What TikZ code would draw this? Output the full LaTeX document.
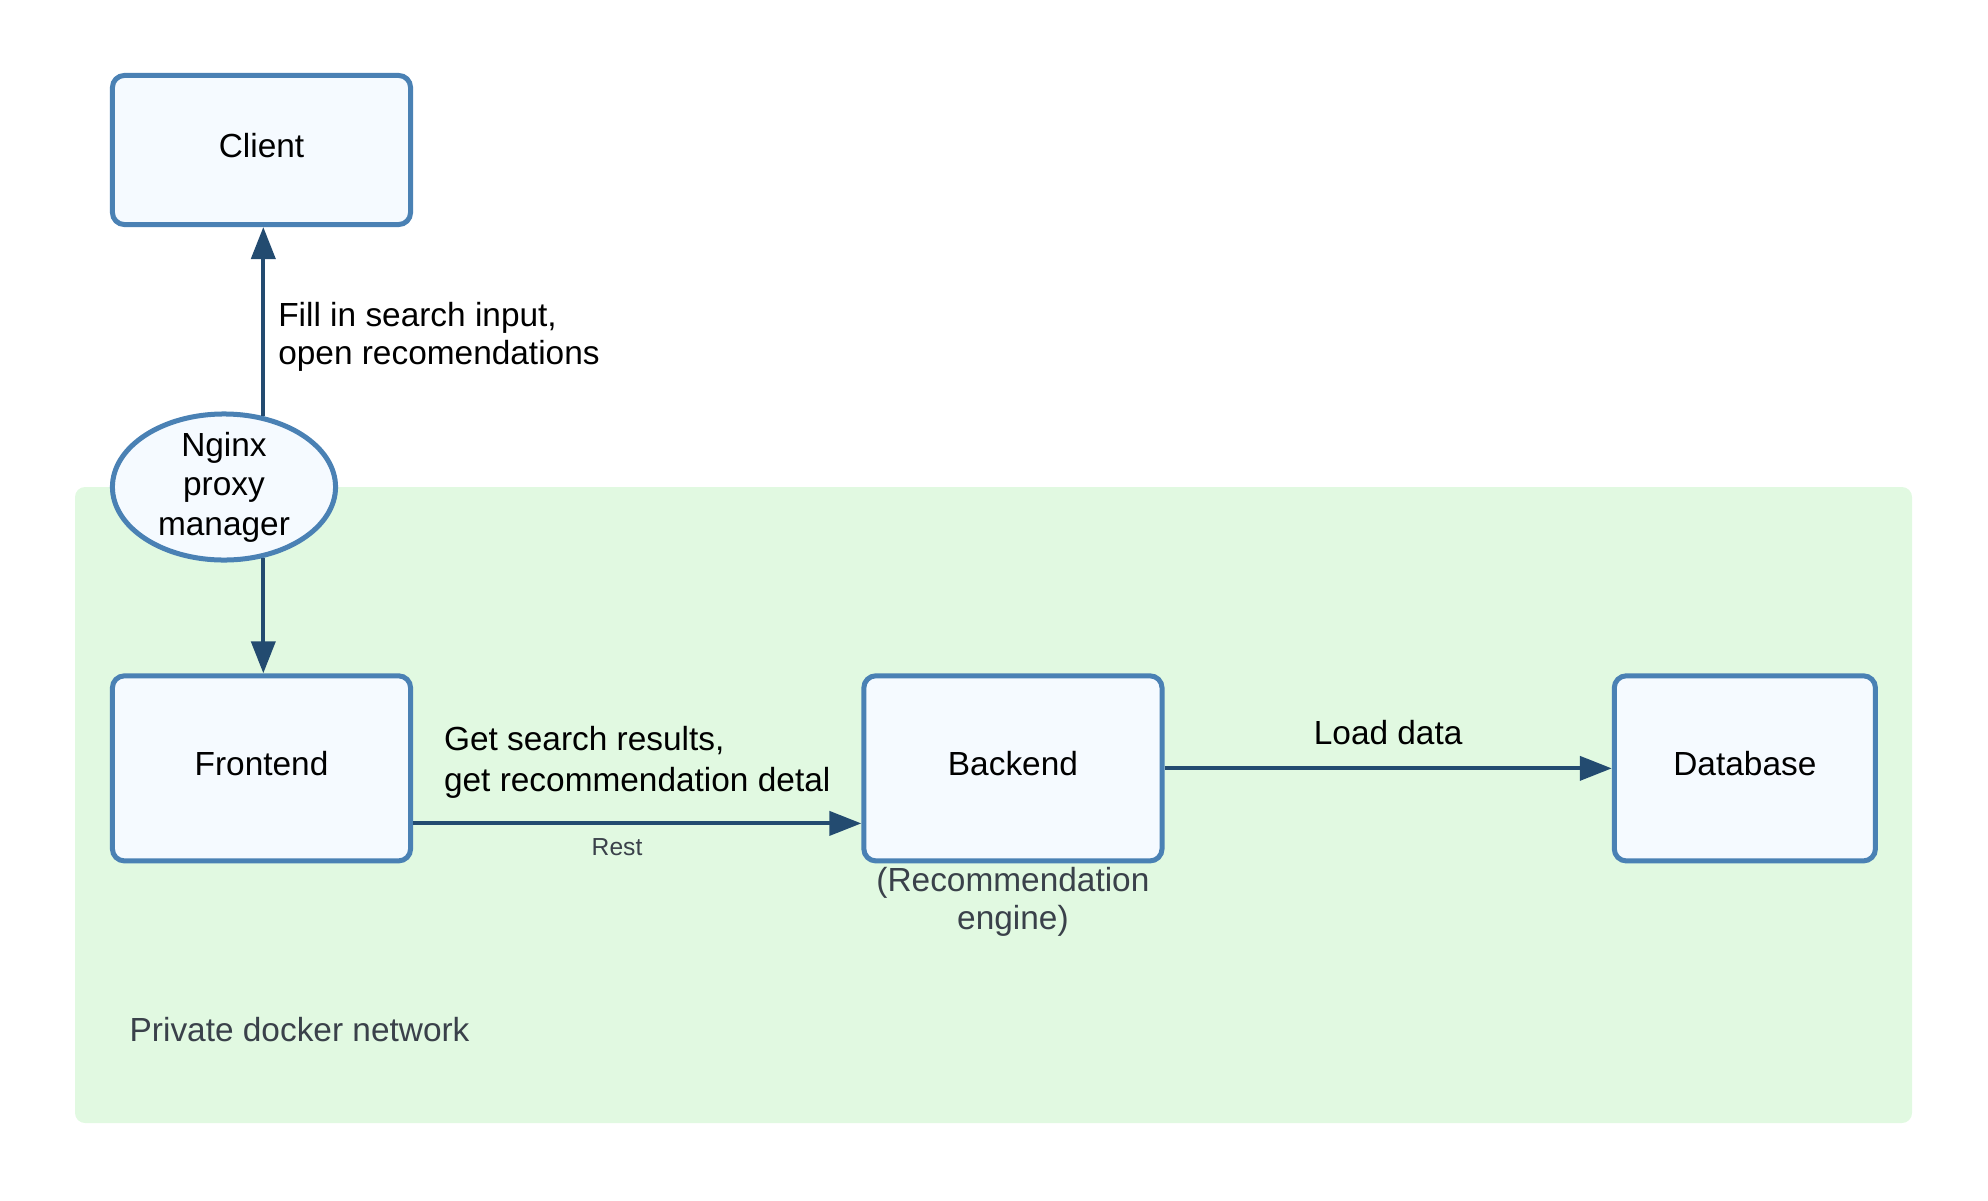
\documentclass[tikz,border=0pt]{standalone}
\usepackage{fontspec}
\setmainfont{Liberation Sans}
\usepackage{tikz}
\usepackage{xcolor}
\usetikzlibrary{shapes.geometric, arrows.meta, positioning, calc}
\definecolor{cBorder}{RGB}{74,129,180}
\definecolor{cFill}{RGB}{245,250,255}
\definecolor{cNet}{RGB}{225,249,225}
\definecolor{cArrow}{RGB}{35,75,112}
\definecolor{cGrey}{RGB}{58,65,74}
\tikzset{
	service/.style={rectangle, rounded corners=0.12cm, minimum width=2.98cm, minimum height=1.85cm, text centered, align=center, draw=cBorder, fill=cFill, line width=0.05cm, inner sep=0pt, text depth=0.09cm},
	proxy/.style  ={ellipse, minimum width=2.23cm, minimum height=1.46cm, align=center, draw=cBorder, fill=cFill, line width=0.05cm, inner sep=0pt, inner ysep=-0.15cm},
	flowarrow/.style={-{Triangle[length=0.32cm, width=0.24cm]}, line width=0.04cm, draw=cArrow},
	% edge and area labels
	lbl/.style={inner sep=0pt, align=left},
	note/.style={inner sep=0pt, text=cGrey},
}

\begin{document}
\begin{tikzpicture}[x=0.01cm, y=-0.01cm, font=\fontsize{9.5}{11.2}\selectfont]
	\useasboundingbox (0,0) rectangle (1988,1200);
	\fill[cNet, rounded corners=0.1cm] (75,487) rectangle (1912,1123);
	\node[note, anchor=base west] (netlbl) at (129,1041) {Private docker network};

	\node[service, minimum height=1.49cm] (client) at (261.5,150) {Client};
	\node[service, below=4.46cm of client] (frontend) {Frontend};
	\node[service, right=4.48cm of frontend] (backend) {Backend};
	\node[service, minimum width=2.61cm, right=4.47cm of backend] (database) {Database};
	\node[proxy] (nginx) at (224,487) {Nginx\\ proxy\\ manager};
	\node[note, below=0.03cm of backend, align=center, font=\fontsize{9.5}{10.8}\selectfont] (engine) {(Recommendation\\ engine)};

	\draw[flowarrow] (nginx.61) -- node[lbl, pos=0.42, right=0.13cm, font=\fontsize{9.5}{10.8}\selectfont]{Fill in search input,\\ open recomendations} (nginx.61 |- client.south);
	\draw[flowarrow] (nginx.-61) -- (nginx.-61 |- frontend.north);
	\draw[flowarrow] ([yshift=-0.55cm]frontend.east) -- node[lbl, midway, above=0.23cm, font=\fontsize{9.5}{11.6}\selectfont]{Get search results,\\ get recommendation detal}
		node[note, pos=0.455, below=0.13cm, font=\fontsize{7}{8}\selectfont]{Rest} ([yshift=-0.55cm]backend.west);
	\draw[flowarrow] (backend) -- node[lbl, midway, above=0.22cm]{Load data} (database);
\end{tikzpicture}
\end{document}
